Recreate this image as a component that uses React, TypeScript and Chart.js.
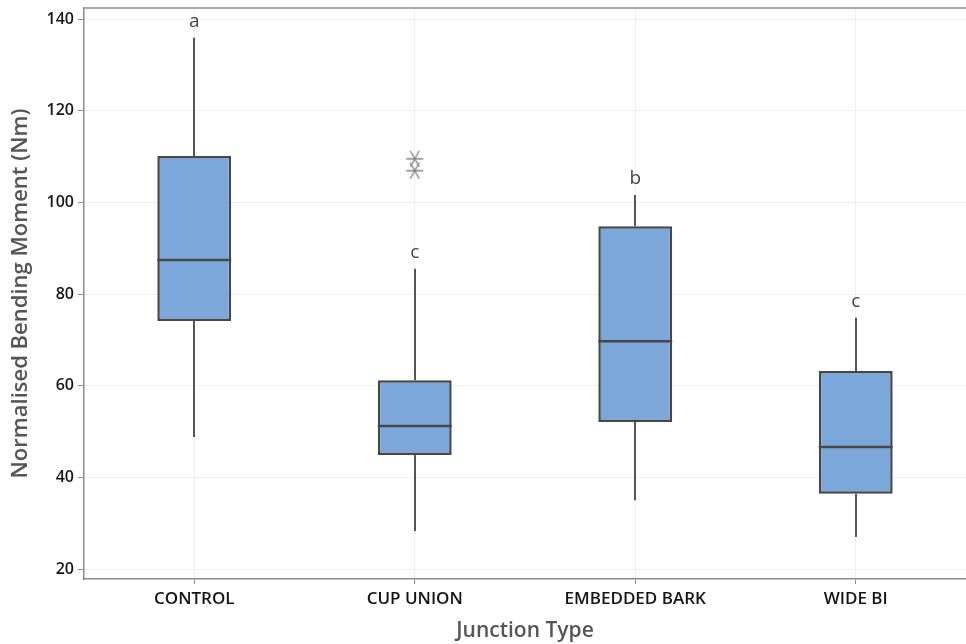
import React, { useEffect, useRef } from "react";
import { Chart, registerables } from "chart.js";

Chart.register(...registerables);

const categories = ["CONTROL", "CUP UNION", "EMBEDDED BARK", "WIDE BI"];
const whiskerLow = [48.8, 28.3, 35.0, 27.0];
const q1 = [74.1, 44.9, 52.1, 36.4];
const median = [87.4, 51.2, 69.7, 46.6];
const q3 = [110.1, 61.2, 94.8, 63.2];
const whiskerHigh = [135.9, 85.5, 101.6, 74.8];
const outlierCategories = ["CUP UNION", "CUP UNION"];
const outlierValues = [109.5, 106.9];
const groupLetters = ["a", "c", "b", "c"];
const yTicks = [20, 40, 60, 80, 100, 120, 140];

const FONT = "'Open Sans', 'Noto Sans', sans-serif";

function makeStar(): HTMLCanvasElement {
  const c = document.createElement("canvas");
  c.width = 20;
  c.height = 20;
  const g = c.getContext("2d")!;
  g.strokeStyle = "#858585";
  g.lineWidth = 1.4;
  g.beginPath();
  g.moveTo(5.5, 2);
  g.lineTo(14.5, 18);
  g.moveTo(14.5, 2);
  g.lineTo(5.5, 18);
  g.moveTo(1.5, 10);
  g.lineTo(18.5, 10);
  g.stroke();
  return c;
}

const boxPlugin = {
  id: "boxExtras",
  beforeDatasetsDraw(chart: any) {
    const { ctx, scales } = chart;
    const x = scales.x;
    const y = scales.y;
    ctx.save();
    ctx.strokeStyle = "#555555";
    ctx.lineWidth = 2;
    categories.forEach((_, i) => {
      const cx = Math.round(x.getPixelForValue(i));
      ctx.beginPath();
      ctx.moveTo(cx, y.getPixelForValue(whiskerHigh[i]));
      ctx.lineTo(cx, y.getPixelForValue(q3[i]));
      ctx.moveTo(cx, y.getPixelForValue(q1[i]));
      ctx.lineTo(cx, y.getPixelForValue(whiskerLow[i]));
      ctx.stroke();
    });
    ctx.restore();
  },
  afterDatasetsDraw(chart: any) {
    const { ctx, scales, chartArea } = chart;
    const x = scales.x;
    const y = scales.y;
    const meta = chart.getDatasetMeta(0);
    ctx.save();
    ctx.strokeStyle = "#8c8c8c";
    ctx.lineWidth = 1.5;
    ctx.beginPath();
    ctx.moveTo(chartArea.left, chartArea.top);
    ctx.lineTo(chartArea.right, chartArea.top);
    ctx.stroke();

    ctx.strokeStyle = "#474747";
    ctx.lineWidth = 2.5;
    categories.forEach((_, i) => {
      const bar = meta.data[i];
      const half = bar.width / 2;
      const cx = bar.x;
      const my = y.getPixelForValue(median[i]);
      ctx.beginPath();
      ctx.moveTo(cx - half, my);
      ctx.lineTo(cx + half, my);
      ctx.stroke();
    });

    ctx.fillStyle = "#444444";
    ctx.font = `19px ${FONT}`;
    ctx.textAlign = "center";
    ctx.textBaseline = "middle";
    categories.forEach((_, i) => {
      const cx = x.getPixelForValue(i);
      const top = y.getPixelForValue(whiskerHigh[i]);
      ctx.fillText(groupLetters[i], cx, top - 16);
    });
    ctx.restore();
  },
};

export default function App() {
  const ref = useRef<HTMLCanvasElement | null>(null);

  useEffect(() => {
    if (!ref.current) return;
    const star = makeStar();
    const chart = new Chart(ref.current, {
      type: "bar",
      data: {
        labels: categories,
        datasets: [
          {
            type: "bar",
            data: categories.map((_, i) => [q1[i], q3[i]]) as any,
            backgroundColor: "#7BA7DB",
            borderColor: "#474747",
            borderWidth: 2.5,
            borderSkipped: false,
            barPercentage: 0.335,
            categoryPercentage: 1,
          },
          {
            type: "line",
            data: outlierCategories.map((c, i) => ({ x: c, y: outlierValues[i] })) as any,
            showLine: false,
            pointStyle: star as any,
            pointRadius: 10,
          } as any,
        ],
      },
      options: {
        animation: false,
        responsive: false,
        layout: { autoPadding: false, padding: { top: 8, left: 0, right: 0, bottom: 0 } },
        plugins: {
          legend: { display: false },
          tooltip: { enabled: false },
        },
        scales: {
          x: {
            type: "category",
            offset: true,
            grid: {
              offset: false,
              color: "#efefef",
              lineWidth: 1,
              drawTicks: true,
              tickLength: 5,
              tickColor: "#8c8c8c",
            },
            border: { display: true, color: "#8c8c8c", width: 1.5 },
            ticks: {
              color: "#151515",
              font: { family: FONT, size: 17, weight: "600" },
              padding: 5,
              maxRotation: 0,
            },
            title: {
              display: true,
              text: "Junction Type",
              color: "#555555",
              font: { family: FONT, size: 21, weight: "600" },
              padding: { top: 0, bottom: 0 },
            },
            afterFit: (s: any) => {
              s.height = 65;
              s.paddingLeft = 0;
              s.paddingRight = 0;
            },
          },
          y: {
            type: "linear",
            min: 17.82,
            max: 142.4,
            afterBuildTicks: (s: any) => {
              s.ticks = yTicks.map((v) => ({ value: v }));
            },
            grid: {
              color: "#efefef",
              lineWidth: 1,
              drawTicks: true,
              tickLength: 6,
              tickColor: "#8c8c8c",
            },
            border: { display: true, color: "#8c8c8c", width: 1.5 },
            ticks: {
              color: "#151515",
              font: { family: FONT, size: 16, weight: "600" },
              padding: 4,
            },
            title: {
              display: true,
              text: "Normalised Bending Moment (Nm)",
              color: "#555555",
              font: { family: FONT, size: 22, weight: "600" },
              padding: { top: 8, bottom: 0 },
            },
            afterFit: (s: any) => {
              s.width = 84;
              s.paddingTop = 0;
              s.paddingBottom = 0;
            },
          },
        },
      },
      plugins: [boxPlugin],
    });
    return () => chart.destroy();
  }, []);

  return (
    <div style={{ position: "absolute", left: 0, top: 0, width: 966, height: 644, background: "#fff" }}>
      <canvas ref={ref} width={966} height={644} style={{ display: "block" }} />
    </div>
  );
}
